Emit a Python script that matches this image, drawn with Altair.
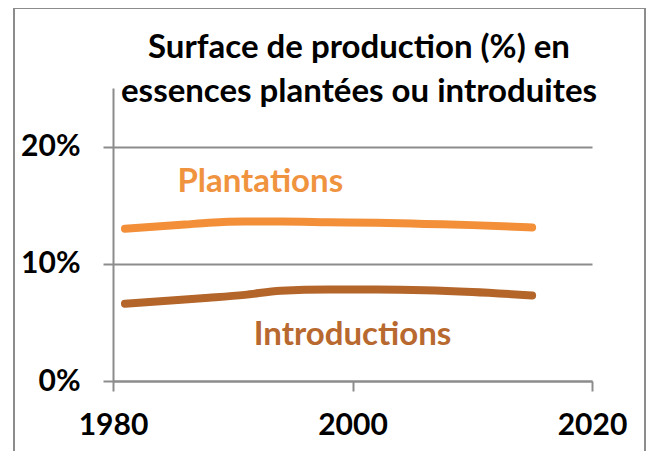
import altair as alt
import pandas as pd

# ---- data ----
years = [1981, 1986, 1988, 1991, 1994, 1998, 2002, 2006, 2010, 2015]
plantations = [13.0, 13.35, 13.5, 13.6, 13.6, 13.55, 13.5, 13.4, 13.3, 13.1]
introductions = [6.6, 6.95, 7.1, 7.35, 7.7, 7.8, 7.8, 7.75, 7.6, 7.3]

series = ["Plantations", "Introductions"]
series_colors = ["#F28F38", "#B4652A"]
label_colors = ["#F0933F", "#B8692F"]
label_years = [1992.3, 2000.0]
label_values = [17.0, 3.9]

x_ticks = [1980, 2000, 2020]
y_ticks = [0, 10, 20]
title_lines = ["Surface de production (%) en", "essences plantées ou introduites"]

GRAY = "#8C8C8C"
FONT = "Lato"

rows = []
for name, vals in zip(series, [plantations, introductions]):
    for yr, v in zip(years, vals):
        rows.append({"year": yr, "value": v, "serie": name})
df = pd.DataFrame(rows)

labels_df = pd.DataFrame({"year": label_years, "value": label_values, "serie": series})

x_scale = alt.Scale(domain=[1980, 2020], nice=False, zero=False)
y_scale = alt.Scale(domain=[0, 25], nice=False)

x_axis = alt.Axis(values=x_ticks, format="d", grid=False, tickSize=10, tickWidth=2,
                  tickColor=GRAY, domainColor=GRAY, domainWidth=2, labelFont=FONT,
                  labelFontWeight="bold", labelFontSize=30, labelColor="black",
                  labelPadding=19, title=None, labelFlush=False)
y_axis = alt.Axis(values=y_ticks, labelExpr="datum.value + '%'", grid=True, gridColor=GRAY,
                  gridWidth=2, tickSize=10, tickWidth=2, tickColor=GRAY, domainColor=GRAY,
                  domainWidth=2, labelFont=FONT, labelFontWeight="bold", labelFontSize=30,
                  labelColor="black", labelPadding=23, title=None)

lines = alt.Chart(df).mark_line(strokeWidth=8, strokeCap="round", interpolate="monotone").encode(
    x=alt.X("year:Q", scale=x_scale, axis=x_axis),
    y=alt.Y("value:Q", scale=y_scale, axis=y_axis),
    color=alt.Color("serie:N", scale=alt.Scale(domain=series, range=series_colors), legend=None),
    detail="serie:N",
)

labels = alt.Chart(labels_df).mark_text(font=FONT, fontWeight="bold", fontSize=33,
                                         baseline="middle", align="center").encode(
    x=alt.X("year:Q", scale=x_scale, axis=x_axis),
    y=alt.Y("value:Q", scale=y_scale, axis=y_axis),
    text="serie:N",
    color=alt.Color("serie:N", scale=alt.Scale(domain=series, range=label_colors), legend=None),
)

deco = alt.Data(values=[{}])
title = alt.Chart(deco).mark_text(font=FONT, fontWeight="bold", fontSize=33, lineHeight=44,
                                  baseline="alphabetic", align="center", color="black").encode(
    x=alt.value(246), y=alt.value(-30), text=alt.value(title_lines)
)

frame_left = alt.Chart(deco).mark_rule(color=GRAY, strokeWidth=2).encode(
    x=alt.value(-99), y=alt.value(-80), y2=alt.value(370))
frame_right = alt.Chart(deco).mark_rule(color=GRAY, strokeWidth=2).encode(
    x=alt.value(532), y=alt.value(-80), y2=alt.value(370))
frame_top = alt.Chart(deco).mark_rule(color=GRAY, strokeWidth=2).encode(
    x=alt.value(-100), x2=alt.value(533), y=alt.value(-80))

chart = alt.layer(lines, labels, frame_left, frame_right, frame_top, title).resolve_scale(
    color="independent"
).properties(
    width=479, height=293,
    autosize=alt.AutoSizeParams(type="none"),
    padding={"left": 105, "top": 80, "right": 54, "bottom": 70},
    background="white",
).configure_view(strokeWidth=0)

chart.save("out.html", embed_options={"renderer": "svg", "actions": False})
